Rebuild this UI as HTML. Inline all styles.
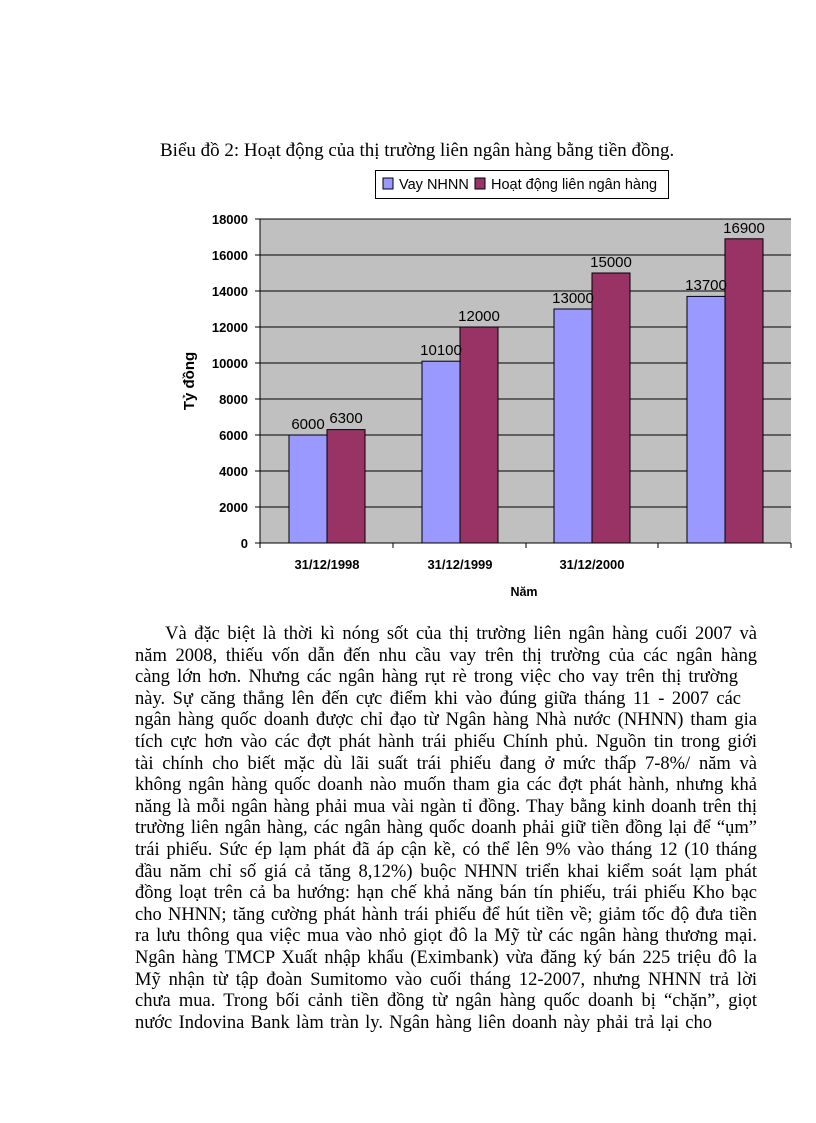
<!DOCTYPE html>
<html><head><meta charset="utf-8"><style>
body{margin:0;background:#fff;width:816px;height:1123px;position:relative;overflow:hidden}
.t{position:absolute;font-family:"Liberation Serif",serif;font-size:19px;color:#000}
.p{position:absolute;left:135px;width:622px;font-family:"Liberation Serif",serif;font-size:18.5px;line-height:21.6px;top:624px}
.p div{text-align:justify;text-align-last:justify;white-space:nowrap;height:21.6px}
</style></head><body>
<div class="t" style="left:160px;top:140px;">Biểu đồ 2: Hoạt động của thị trường liên ngân hàng bằng tiền đồng.</div>
<svg width="816" height="620" style="position:absolute;left:0;top:0" font-family="Liberation Sans, Arial, sans-serif">
<rect x="375.5" y="170.5" width="293" height="28" fill="#fff" stroke="#000"/>
<rect x="383" y="178" width="10" height="11" fill="#9999ff" stroke="#000"/>
<text x="399" y="189" font-size="14.5">Vay NHNN</text>
<rect x="475" y="178" width="10" height="11" fill="#993366" stroke="#000"/>
<text x="491" y="189" font-size="14.5">Hoạt động liên ngân hàng</text>
<rect x="260" y="219" width="531" height="324" fill="#c0c0c0"/>
<g stroke="#000" stroke-width="1">
<line x1="255" y1="219" x2="791" y2="219"/><line x1="255" y1="255" x2="791" y2="255"/><line x1="255" y1="291" x2="791" y2="291"/><line x1="255" y1="327" x2="791" y2="327"/><line x1="255" y1="363" x2="791" y2="363"/><line x1="255" y1="399" x2="791" y2="399"/><line x1="255" y1="435" x2="791" y2="435"/><line x1="255" y1="471" x2="791" y2="471"/><line x1="255" y1="507" x2="791" y2="507"/><line x1="255" y1="543" x2="791" y2="543"/>
<line x1="260" y1="219" x2="260" y2="548"/><line x1="393" y1="543" x2="393" y2="548"/><line x1="526" y1="543" x2="526" y2="548"/><line x1="658" y1="543" x2="658" y2="548"/><line x1="791" y1="543" x2="791" y2="548"/>
</g>
<g stroke="#000" stroke-width="1">
<rect x="289" y="435" width="38" height="108" fill="#9999ff"/><rect x="327" y="429.6" width="38" height="113.4" fill="#993366"/>
<rect x="422" y="361.2" width="38" height="181.8" fill="#9999ff"/><rect x="460" y="327" width="38" height="216" fill="#993366"/>
<rect x="554" y="309" width="38" height="234" fill="#9999ff"/><rect x="592" y="273" width="38" height="270" fill="#993366"/>
<rect x="687" y="296.4" width="38" height="246.6" fill="#9999ff"/><rect x="725" y="238.8" width="38" height="304.2" fill="#993366"/>
</g>
<g font-size="15" text-anchor="middle">
<text x="308" y="429">6000</text><text x="346" y="423">6300</text>
<text x="441" y="355">10100</text><text x="479" y="321">12000</text>
<text x="573" y="303">13000</text><text x="611" y="267">15000</text>
<text x="706" y="290">13700</text><text x="744" y="233">16900</text>
</g>
<g font-size="13" font-weight="bold" text-anchor="end">
<text x="248" y="224">18000</text><text x="248" y="260">16000</text><text x="248" y="296">14000</text><text x="248" y="332">12000</text><text x="248" y="368">10000</text><text x="248" y="404">8000</text><text x="248" y="440">6000</text><text x="248" y="476">4000</text><text x="248" y="512">2000</text><text x="248" y="548">0</text>
</g>
<g font-size="13" font-weight="bold" text-anchor="middle">
<text x="327" y="569">31/12/1998</text><text x="460" y="569">31/12/1999</text><text x="592" y="569">31/12/2000</text>
<text x="524" y="596" font-size="12.5">Năm</text>
<text transform="translate(194,381) rotate(-90)" font-size="15">Tỷ đồng</text>
</g>
</svg>
<div class="p">
<div>&nbsp;&nbsp;&nbsp;&nbsp;Và đặc biệt là thời kì nóng sốt của thị trường liên ngân hàng cuối 2007 và</div>
<div>năm 2008, thiếu vốn dẫn đến nhu cầu vay trên thị trường của các ngân hàng</div>
<div style="width:603px">càng lớn hơn. Nhưng các ngân hàng rụt rè trong việc cho vay trên thị trường</div>
<div style="width:606px">này. Sự căng thẳng lên đến cực điểm khi vào đúng giữa tháng 11 - 2007 các</div>
<div>ngân hàng quốc doanh được chỉ đạo từ Ngân hàng Nhà nước (NHNN) tham gia</div>
<div>tích cực hơn vào các đợt phát hành trái phiếu Chính phủ. Nguồn tin trong giới</div>
<div>tài chính cho biết mặc dù lãi suất trái phiếu đang ở mức thấp 7-8%/ năm và</div>
<div>không ngân hàng quốc doanh nào muốn tham gia các đợt phát hành, nhưng khả</div>
<div>năng là mỗi ngân hàng phải mua vài ngàn tỉ đồng. Thay bằng kinh doanh trên thị</div>
<div>trường liên ngân hàng, các ngân hàng quốc doanh phải giữ tiền đồng lại để “ụm”</div>
<div>trái phiếu. Sức ép lạm phát đã áp cận kề, có thể lên 9% vào tháng 12 (10 tháng</div>
<div>đầu năm chỉ số giá cả tăng 8,12%) buộc NHNN triển khai kiểm soát lạm phát</div>
<div>đồng loạt trên cả ba hướng: hạn chế khả năng bán tín phiếu, trái phiếu Kho bạc</div>
<div>cho NHNN; tăng cường phát hành trái phiếu để hút tiền về; giảm tốc độ đưa tiền</div>
<div>ra lưu thông qua việc mua vào nhỏ giọt đô la Mỹ từ các ngân hàng thương mại.</div>
<div>Ngân hàng TMCP Xuất nhập khẩu (Eximbank) vừa đăng ký bán 225 triệu đô la</div>
<div>Mỹ nhận từ tập đoàn Sumitomo vào cuối tháng 12-2007, nhưng NHNN trả lời</div>
<div>chưa mua. Trong bối cảnh tiền đồng từ ngân hàng quốc doanh bị “chặn”, giọt</div>
<div style="width:577px">nước Indovina Bank làm tràn ly. Ngân hàng liên doanh này phải trả lại cho</div>
</div>
</body></html>
